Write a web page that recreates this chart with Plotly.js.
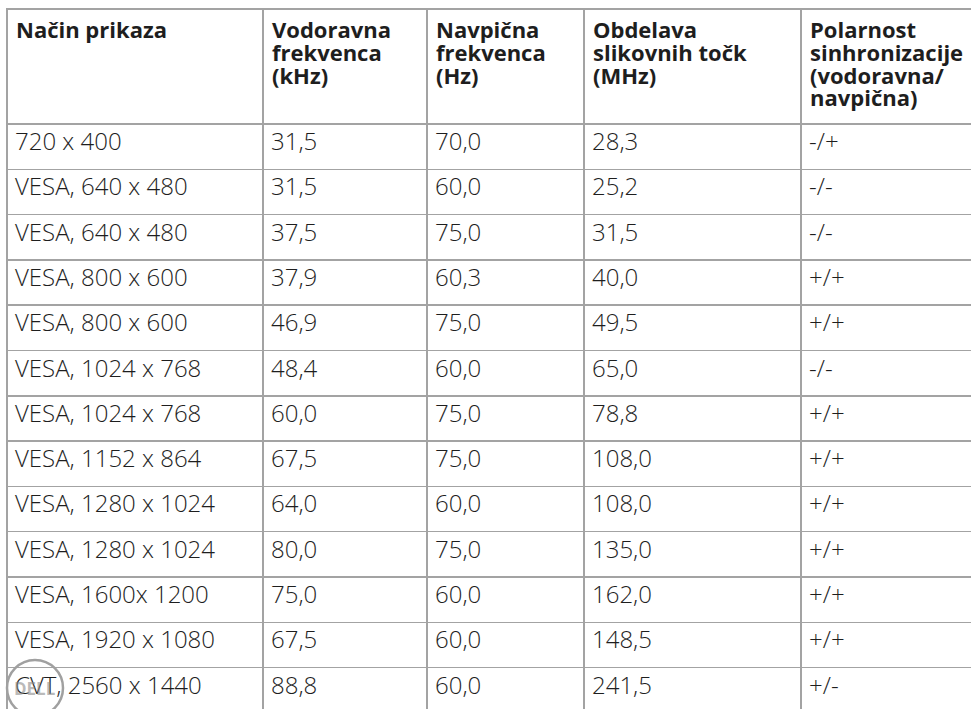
<!DOCTYPE html>
<html>
<head>
<meta charset="utf-8">
<script src="https://cdn.plot.ly/plotly-3.0.1.min.js"></script>
<style>
html,body{margin:0;padding:0;background:#fff;overflow:hidden;width:971px;height:709px;}
#chart{width:1000px;height:720px;}
</style>
</head>
<body>
<div id="chart"></div>
<script>
const headers = [
  ["Način prikaza"],
  ["Vodoravna", "frekvenca", "(kHz)"],
  ["Navpična", "frekvenca", "(Hz)"],
  ["Obdelava", "slikovnih točk", "(MHz)"],
  ["Polarnost", "sinhronizacije", "(vodoravna/", "navpična)"]
];
const modes = ["720 x 400","VESA, 640 x 480","VESA, 640 x 480","VESA, 800 x 600","VESA, 800 x 600","VESA, 1024 x 768","VESA, 1024 x 768","VESA, 1152 x 864","VESA, 1280 x 1024","VESA, 1280 x 1024","VESA, 1600x 1200","VESA, 1920 x 1080","CVT, 2560 x 1440"];
const hFreq = [31.5,31.5,37.5,37.9,46.9,48.4,60.0,67.5,64.0,80.0,75.0,67.5,88.8];
const vFreq = [70.0,60.0,75.0,60.3,75.0,60.0,75.0,75.0,60.0,75.0,60.0,60.0,60.0];
const pixelClock = [28.3,25.2,31.5,40.0,49.5,65.0,78.8,108.0,108.0,135.0,162.0,148.5,241.5];
const polarity = ["-/+","-/-","-/-","+/+","+/+","-/-","+/+","+/+","+/+","+/+","+/+","+/+","+/-"];

const fmt = v => v.toFixed(1).replace('.', ',');
const lineColor = '#a3a3a3';
const textColor = '#1e1e1e';
const fontFam = '"Open Sans", sans-serif';
const colWidths = [256, 164, 157, 217, 199];
const totalW = colWidths.reduce((a, b) => a + b, 0);

const trace = {
  type: 'table',
  domain: {x: [0, 1], y: [0, 1]},
  columnwidth: colWidths,
  header: {
    values: headers.map(() => ''),
    align: 'left',
    height: 115,
    line: {color: lineColor, width: 1.5},
    fill: {color: '#ffffff'},
    font: {family: fontFam, size: 22, color: textColor}
  },
  cells: {
    values: [modes, hFreq.map(fmt), vFreq.map(fmt), pixelClock.map(fmt), polarity],
    align: 'left',
    height: 45.3,
    line: {color: lineColor, width: 1.5},
    fill: {color: '#ffffff'},
    font: {family: fontFam, size: 24, weight: 300, color: textColor}
  }
};

// header text: the annotation font size sets the (tight) line spacing,
// the span sets the glyph size
const annotations = [];
let cum = 0;
headers.forEach((lines, c) => {
  annotations.push({
    xref: 'paper', yref: 'paper',
    x: cum / totalW, y: 1,
    xanchor: 'left', yanchor: 'top', align: 'left',
    xshift: 7, yshift: -3,
    text: lines.map(ln => '<span style="font-size:22px"><b>' + ln + '</b></span>').join('<br>'),
    showarrow: false,
    font: {family: fontFam, size: 17.5, color: textColor}
  });
  cum += colWidths[c];
});
// faint logo watermark
annotations.push({
  xref: 'paper', yref: 'paper', x: 0.0282, y: 0.045,
  xanchor: 'center', yanchor: 'middle', showarrow: false,
  text: '<b>DELL</b>', font: {family: fontFam, size: 17, color: 'rgba(140,140,140,0.6)'}
});

const layout = {
  width: 1000,
  height: 720,
  margin: {l: 7, r: 0, t: 9, b: 0},
  paper_bgcolor: '#ffffff',
  showlegend: false,
  annotations: annotations,
  shapes: [{
    type: 'circle', xref: 'paper', yref: 'paper',
    x0: 0.0, x1: 0.0564, y0: 0.0056, y1: 0.0844,
    line: {color: '#a0a0a0', width: 2.5}, fillcolor: 'rgba(0,0,0,0)'
  }]
};

Plotly.newPlot('chart', [trace], layout, {displayModeBar: false, staticPlot: true});
</script>
</body>
</html>
